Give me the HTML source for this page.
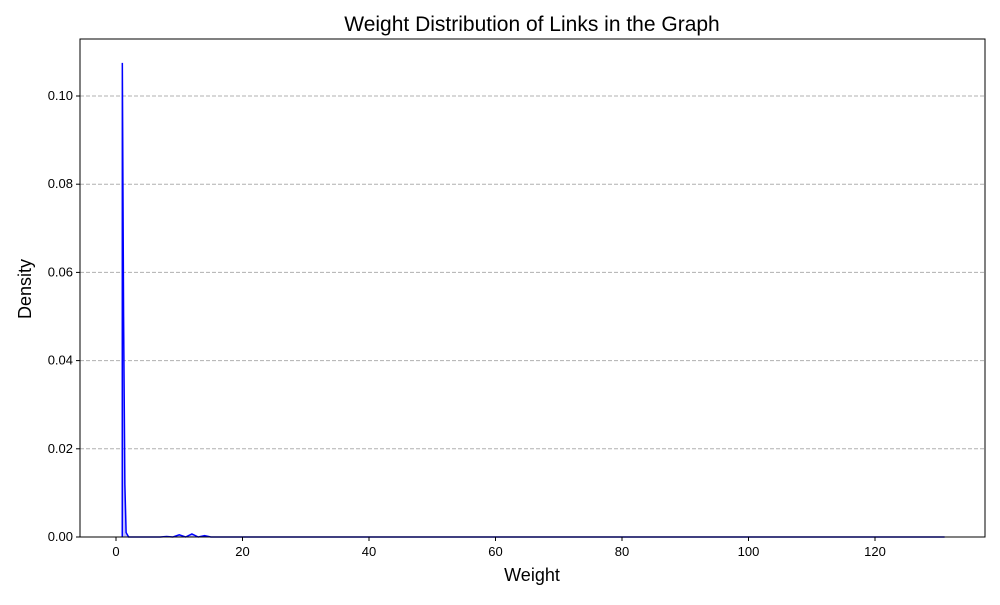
<!DOCTYPE html>
<html><head><meta charset="utf-8"><style>
body{margin:0;background:#fff;font-family:"Liberation Sans",sans-serif}
svg text{font-family:"Liberation Sans",sans-serif}
</style></head><body>
<svg width="1000" height="600" id="c">
<rect width="1000" height="600" fill="#fff"/>
<g id="grid"></g><g id="marks"></g><g id="axes"></g>
<text x="532" y="31" font-size="21" text-anchor="middle">Weight Distribution of Links in the Graph</text>
<text x="532" y="581" font-size="18" text-anchor="middle">Weight</text>
<text x="31" y="289" font-size="18" text-anchor="middle" transform="rotate(-90 31 289)">Density</text>
</svg>
<script>
const xs=[0.99,1,1.2,1.4,1.6,2,7,8,9,10,11,12,13,14,15,131];
const ys=[0,0.1075,0.05,0.012,0.001,0,0,0.0001,0,0.0005,0,0.0007,0,0.0003,0,0];
const xTicks=[0,20,40,60,80,100,120];
const yTicks=[0,0.02,0.04,0.06,0.08,0.10];
const L=80,R=985,T=39,B=537;
const X=v=>116+v*(875-116)/120;
const Y=v=>B-v*(B-96)/0.1;
const ns='http://www.w3.org/2000/svg';
function mk(t,a,p){const e=document.createElementNS(ns,t);for(const k in a)e.setAttribute(k,a[k]);document.getElementById(p).appendChild(e);return e;}
yTicks.forEach(v=>{if(v>0){const g=mk('line',{x1:L,x2:R,y1:Y(v),y2:Y(v),stroke:'#b0b0b0','stroke-dasharray':'4,2'},'grid');

}
const t=mk('line',{x1:L-4,x2:L,y1:Y(v),y2:Y(v),stroke:'#000'},'axes');


const l=mk('text',{x:L-7,y:Y(v)+4,'font-size':13,'text-anchor':'end'},'axes');l.textContent=v.toFixed(2);

});
xTicks.forEach(v=>{const t=mk('line',{x1:X(v),x2:X(v),y1:B,y2:B+4,stroke:'#000'},'axes');


const l=mk('text',{x:X(v),y:B+19,'font-size':13,'text-anchor':'middle'},'axes');l.textContent=v;

});
let d=xs.map((x,i)=>(i?'L':'M')+X(x).toFixed(2)+','+Y(ys[i]).toFixed(2)).join(' ');
const f=mk('path',{d:d+` L${X(xs[xs.length-1])},${B} L${X(xs[0])},${B} Z`,fill:'rgba(0,0,255,0.25)'},'marks');


const ln=mk('path',{d:d,fill:'none',stroke:'#0000ff','stroke-width':1.5},'marks');


const fr=mk('rect',{x:L,y:T,width:R-L,height:B-T,fill:'none',stroke:'#000'},'axes');


</script>
</body></html>
